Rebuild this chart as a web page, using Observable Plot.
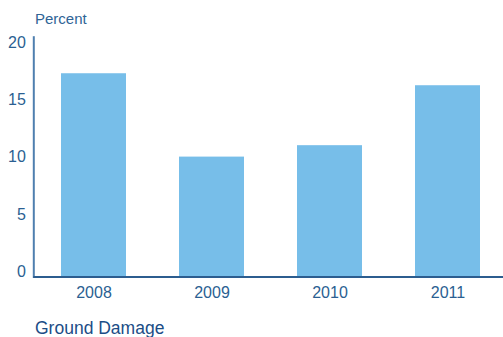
<!DOCTYPE html>
<html>
<head>
<meta charset="utf-8">
<script src="https://cdn.jsdelivr.net/npm/d3@7"></script>
<script src="https://cdn.jsdelivr.net/npm/@observablehq/plot@0.6"></script>
<style>
  html, body { margin: 0; padding: 0; background: #fff; }
  #wrap { width: 503px; height: 337px; overflow: hidden; font-family: "Liberation Sans", Arial, sans-serif; }
  #title { box-sizing: border-box; height: 30px; padding: 10.6px 0 0 35px; font-size: 15px; line-height: 1; color: #2f6496; }
  #caption { box-sizing: border-box; height: 25px; padding: 8px 0 0 35px; font-size: 17.5px; line-height: 1; color: #1b4d86; white-space: nowrap; }
  svg { display: block; }
</style>
</head>
<body>
<div id="wrap">
  <div id="title">Percent</div>
  <div id="chart"></div>
  <div id="caption">Ground Damage</div>
</div>
<script>
const years = ["2008", "2009", "2010", "2011"];
const values = [17.8, 10.5, 11.5, 16.75];
const yTicks = [0, 5, 10, 15, 20];

const data = years.map((year, i) => ({year, value: values[i]}));

const chart = Plot.plot({
  width: 503,
  height: 282,
  marginTop: 6.7,
  marginBottom: 35.5,
  marginLeft: 33.3,
  marginRight: 0,
  style: {fontFamily: "'Liberation Sans', Arial, sans-serif", fontSize: "16px", color: "#2b5f92", background: "white"},
  x: {domain: years, paddingInner: 0.452, paddingOuter: 0.205, align: 0.55, label: null},
  y: {domain: [0, 21], label: null},
  marks: [
    Plot.barY(data, {x: "year", y: "value", fill: "#77bee9"}),
    Plot.axisY({ticks: yTicks, tickSize: 0, tickPadding: 8, dy: -5.5, label: null, fill: "#2b5f92"}),
    Plot.axisX({tickSize: 0, tickPadding: 9.5, label: null, fill: "#2b5f92"}),
    Plot.frame({anchor: "left", stroke: "#4f7faf", strokeWidth: 2}),
    Plot.ruleY([0], {stroke: "#2c5d8f", strokeWidth: 2})
  ]
});
document.getElementById("chart").appendChild(chart);
</script>
</body>
</html>
